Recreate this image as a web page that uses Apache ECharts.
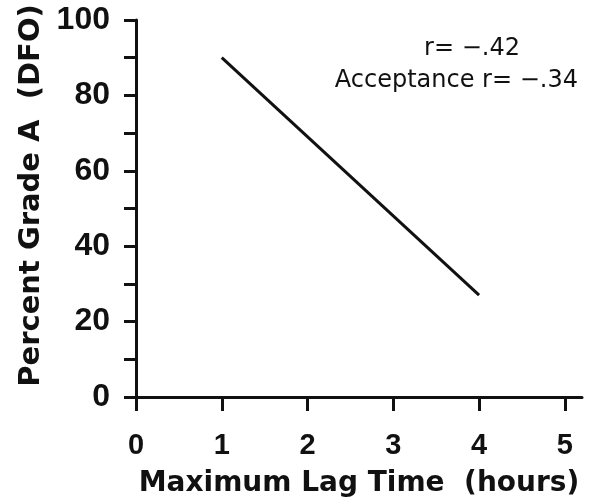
<!DOCTYPE html>
<html><head><meta charset="utf-8">
<script src="https://cdn.jsdelivr.net/npm/echarts@6/dist/echarts.min.js"></script>
<style>html,body{margin:0;padding:0;background:#fff}#c{width:593px;height:504px}</style>
</head><body><div id="c"></div>
<script>
const xTicks = [0, 1, 2, 3, 4, 5];
const lineX = [1, 4];
const lineY = [90, 27];
const notes = ['r= \u2212.42', 'Acceptance r= \u2212.34'];
const xTitle = 'Maximum Lag Time  (hours)';
const yTitle = 'Percent Grade A  (DFO)';

const chart = echarts.init(document.getElementById('c'));
const ink = '#111';
const font = 'DejaVu Sans';
const numFont = 'Liberation Sans';
chart.setOption({
  animation: false,
  backgroundColor: '#fff',
  grid: { left: 136, top: 20, right: 11, bottom: 107, outerBoundsMode: 'none', containLabel: false },
  xAxis: {
    type: 'value', min: 0, max: 5.2,
    name: xTitle, nameLocation: 'middle', nameGap: 73,
    nameTextStyle: { color: ink, fontFamily: font, fontSize: 28, fontWeight: 'bold' },
    axisLine: { show: true, lineStyle: { color: ink, width: 3 } },
    axisTick: { show: true, inside: false, length: 14, lineStyle: { color: ink, width: 3 }, customValues: xTicks },
    axisLabel: { color: ink, fontFamily: numFont, fontSize: 29, fontWeight: 'bold', margin: 34, customValues: xTicks },
    splitLine: { show: false }
  },
  yAxis: {
    type: 'value', min: 0, max: 100, interval: 10,
    name: yTitle, nameLocation: 'middle', nameGap: 80, nameRotate: 90,
    nameTextStyle: { color: ink, fontFamily: font, fontSize: 29, fontWeight: 'bold', padding: [0, 0, 0, 26] },
    axisLine: { show: true, lineStyle: { color: ink, width: 3 } },
    axisTick: { show: true, inside: false, length: 12, lineStyle: { color: ink, width: 3 } },
    axisLabel: { color: ink, fontFamily: numFont, fontSize: 32, fontWeight: 'bold', margin: 26,
      formatter: v => (v % 20 === 0 ? String(v) : '') },
    splitLine: { show: false }
  },
  graphic: [
    { type: 'text', right: 73, top: 37, style: { text: notes[0], fill: ink, font: '24px "DejaVu Sans"' } },
    { type: 'text', right: 15, top: 69, style: { text: notes[1], fill: ink, font: '24px "DejaVu Sans"' } }
  ],
  series: [{
    type: 'line', symbol: 'none',
    data: lineX.map((x, i) => [x, lineY[i]]),
    lineStyle: { color: ink, width: 3 }
  }]
});
</script></body></html>
